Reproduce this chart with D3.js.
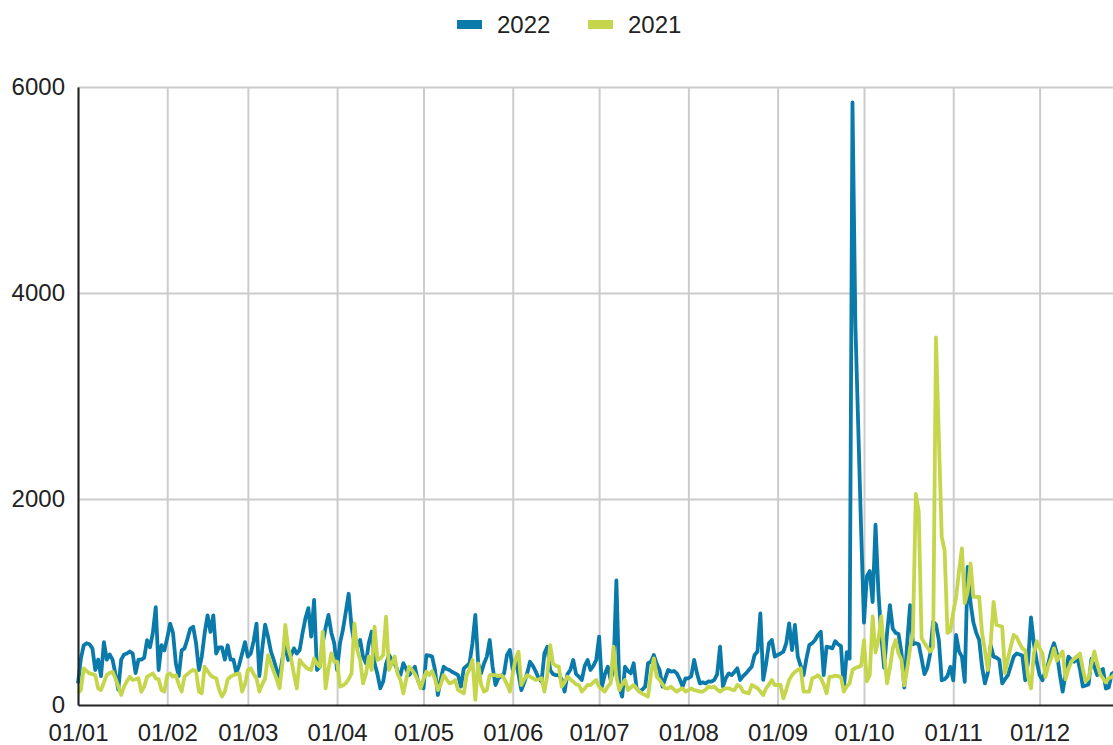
<!DOCTYPE html>
<html>
<head>
<meta charset="utf-8">
<script src="https://cdn.jsdelivr.net/npm/d3@7"></script>
<style>
  body { margin: 0; background: #fff; overflow: hidden; }
  text { font-family: "Liberation Sans", Arial, sans-serif; fill: #222; }
</style>
</head>
<body>
<script>
// series names in legend order
var seriesNames = ["2022", "2021"];
var seriesColors = ["#0a7aab", "#c6d64c"];

// month tick labels (dd/mm)
var monthLabels = ["01/01", "01/02", "01/03", "01/04", "01/05", "01/06",
                   "01/07", "01/08", "01/09", "01/10", "01/11", "01/12"];
var yTicks = [0, 2000, 4000, 6000];

// daily values, one line per month
var values2022 = [
  210, 450, 580, 600, 590, 550, 340, 440, 280, 610, 440, 490, 440, 300, 150, 440, 490, 500, 520, 500, 310, 440, 440, 460, 630, 560, 700, 950, 340, 580, 530,
  650, 790, 700, 400, 280, 530, 550, 640, 740, 760, 600, 340, 470, 700, 870, 710, 870, 500, 560, 560, 440, 580, 440, 440, 310, 390, 500, 610,
  470, 500, 620, 790, 280, 550, 780, 663, 520, 437, 340, 275, 450, 582, 437, 480, 550, 500, 534, 700, 841, 940, 663, 1020, 340, 372, 600, 750, 874, 700, 600,
  340, 600, 728, 900, 1080, 760, 600, 566, 631, 470, 405, 600, 712, 405, 300, 162, 227, 400, 485, 440, 405, 330, 290, 405, 350, 290, 330, 372, 243, 180,
  162, 485, 480, 470, 340, 97, 250, 372, 350, 340, 320, 307, 290, 178, 356, 380, 405, 600, 874, 405, 307, 400, 470, 631, 372, 194, 260, 280, 307, 485, 534,
  340, 437, 300, 145, 220, 307, 420, 380, 324, 260, 227, 502, 566, 340, 300, 290, 290, 250, 130, 300, 340, 437, 300, 275, 243, 380, 437, 340, 380, 437,
  663, 178, 300, 372, 243, 350, 1210, 178, 81, 372, 330, 307, 405, 162, 130, 150, 178, 405, 420, 485, 400, 340, 178, 260, 340, 324, 330, 307, 250, 178, 259,
  259, 280, 437, 307, 210, 220, 210, 230, 227, 243, 300, 566, 178, 260, 307, 290, 320, 356, 243, 280, 307, 340, 372, 485, 520, 890, 243, 400, 600, 631, 470,
  485, 500, 518, 600, 793, 534, 777, 470, 380, 290, 450, 582, 600, 631, 680, 712, 290, 566, 560, 550, 620, 590, 571, 152, 514, 450, 5850, 3700, 2700, 1700,
  800, 1250, 1300, 1000, 1750, 1100, 670, 360, 700, 970, 740, 700, 690, 510, 170, 600, 970, 590, 600, 590, 450, 300, 360, 500, 810, 780, 630, 240, 250, 280, 370,
  240, 680, 520, 470, 225, 1340, 990, 800, 700, 630, 370, 210, 310, 580, 470, 460, 440, 210, 250, 290, 380, 470, 500, 490, 480, 240, 420, 850, 600, 420,
  290, 240, 330, 400, 520, 600, 500, 300, 130, 300, 470, 440, 420, 470, 350, 180, 190, 200, 450, 370, 290, 330, 350, 160, 170, 300, 320, 280, 250, 220, 200
];

var values2021 = [
  113, 145, 356, 330, 307, 300, 290, 162, 145, 220, 290, 310, 324, 259, 180, 97, 178, 230, 275, 243, 250, 259, 129, 178, 275, 290, 307, 259, 250, 145, 130,
  290, 307, 275, 290, 200, 130, 275, 300, 324, 340, 330, 130, 113, 372, 330, 290, 270, 259, 150, 81, 130, 250, 275, 290, 300, 307, 130, 200,
  340, 356, 300, 259, 130, 200, 259, 485, 400, 324, 250, 162, 400, 777, 550, 453, 300, 162, 437, 400, 372, 350, 340, 453, 400, 372, 712, 162, 350, 502, 420,
  420, 178, 190, 210, 250, 307, 793, 534, 437, 210, 300, 470, 340, 760, 437, 450, 485, 857, 340, 400, 470, 300, 243, 113, 250, 372, 340, 300, 243, 162,
  250, 324, 290, 330, 250, 145, 200, 290, 250, 210, 220, 243, 145, 130, 113, 290, 350, 437, 49, 405, 200, 130, 145, 290, 290, 290, 280, 290, 259, 200, 130,
  307, 450, 518, 194, 250, 290, 275, 260, 243, 250, 260, 130, 290, 582, 405, 380, 372, 178, 220, 275, 250, 227, 200, 194, 130, 160, 194, 194, 220, 243,
  178, 150, 130, 180, 210, 566, 275, 145, 200, 243, 145, 170, 194, 160, 130, 110, 97, 81, 300, 453, 275, 243, 200, 162, 162, 178, 150, 130, 150, 162, 130,
  145, 162, 145, 140, 130, 130, 150, 178, 170, 178, 150, 130, 150, 162, 162, 150, 145, 194, 180, 130, 120, 113, 194, 180, 162, 130, 97, 162, 200, 243, 194,
  194, 194, 65, 150, 243, 290, 320, 340, 356, 130, 130, 130, 259, 270, 290, 259, 200, 113, 275, 275, 285, 280, 270, 130, 180, 210, 340, 360, 370, 380,
  630, 230, 290, 860, 510, 630, 860, 500, 210, 360, 550, 630, 500, 440, 190, 350, 550, 700, 2050, 1880, 650, 600, 560, 520, 560, 3570, 2600, 1630, 1500, 700, 720,
  900, 1050, 1300, 1520, 990, 1100, 1375, 1050, 1050, 1050, 700, 530, 340, 600, 1000, 780, 770, 760, 310, 450, 570, 680, 660, 600, 550, 530, 275, 160, 500, 620,
  550, 500, 270, 380, 450, 550, 430, 480, 520, 250, 350, 420, 450, 470, 500, 350, 230, 260, 400, 520, 400, 300, 260, 220, 260, 270, 300, 320, 280, 260, 240
];

var width = 1113;
var height = 745;
var padding = {top: 87, left: 78, bottom: 40};
var fontSize = 24;

var startDay = new Date(2022, 0, 1);
function dayDate(i) { return d3.timeDay.offset(startDay, i); }

var svg = d3.select("body")
            .append("svg")
            .attr("width", width)
            .attr("height", height);

/* x scale: one year of days, runs a little past the right edge like the source */
var xScale = d3.scaleTime()
               .domain([startDay, dayDate(364)])
               .range([padding.left, 1126]);

var yScale = d3.scaleLinear()
               .domain([0, 6000])
               .range([height - padding.bottom, padding.top]);

var monthTicks = d3.range(12).map(function(m) { return new Date(2022, m, 1); });

/* vertical grid lines */
svg.append("g")
   .attr("class", "grid-x")
   .attr("transform", "translate(0," + yScale(0) + ")")
   .call(d3.axisBottom(xScale).tickValues(monthTicks).tickSize(-(yScale(0) - yScale(6000))).tickFormat(""))
   .call(function(g) {
       g.select(".domain").remove();
       g.selectAll("line").attr("stroke", "#cccccc").attr("stroke-width", 2);
   });

/* horizontal grid lines */
svg.append("g")
   .attr("class", "grid-y")
   .attr("transform", "translate(" + padding.left + ",0)")
   .call(d3.axisLeft(yScale).tickValues(yTicks.slice(1)).tickSize(-(width - padding.left)).tickFormat(""))
   .call(function(g) {
       g.select(".domain").remove();
       g.selectAll("line").attr("stroke", "#cccccc").attr("stroke-width", 2);
   });

/* the two series, 2021 drawn on top */
var line = d3.line()
             .x(function(d, i) { return xScale(dayDate(i)); })
             .y(function(d) { return yScale(d); });

[values2022, values2021].forEach(function(vals, k) {
    svg.append("path")
       .datum(vals)
       .attr("fill", "none")
       .attr("stroke", seriesColors[k])
       .attr("stroke-width", 3.8)
       .attr("stroke-linejoin", "round")
       .attr("d", line);
});

/* axes */
svg.append("g")
   .attr("class", "axis-x")
   .attr("transform", "translate(0," + yScale(0) + ")")
   .call(d3.axisBottom(xScale).tickValues(monthTicks).tickSize(0).tickPadding(19)
           .tickFormat(function(d, i) { return monthLabels[i]; }))
   .call(function(g) {
       g.select(".domain").attr("stroke", "#222").attr("stroke-width", 2);
       g.selectAll("text").attr("font-size", fontSize).attr("fill", "#222");
   });

svg.append("g")
   .attr("class", "axis-y")
   .attr("transform", "translate(" + padding.left + ",0)")
   .call(d3.axisLeft(yScale).tickValues(yTicks).tickSize(0).tickPadding(13).tickFormat(d3.format("d")))
   .call(function(g) {
       g.select(".domain").attr("stroke", "#222").attr("stroke-width", 2);
       g.selectAll("text").attr("font-size", fontSize).attr("fill", "#222");
   });

/* legend */
var legendX = [457, 588];
seriesNames.forEach(function(name, k) {
    svg.append("rect")
       .attr("x", legendX[k])
       .attr("y", 20)
       .attr("width", 25)
       .attr("height", 9)
       .attr("fill", seriesColors[k]);
    svg.append("text")
       .attr("x", legendX[k] + 40)
       .attr("y", 33)
       .attr("font-size", fontSize)
       .text(name);
});
</script>
</body>
</html>
